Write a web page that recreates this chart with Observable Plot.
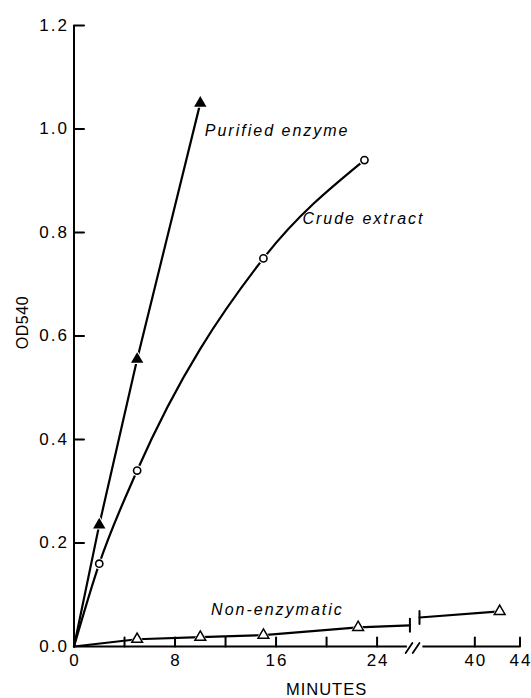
<!DOCTYPE html>
<html>
<head>
<meta charset="utf-8">
<script src="https://cdn.jsdelivr.net/npm/d3@7"></script>
<script src="https://cdn.jsdelivr.net/npm/@observablehq/plot@0.6"></script>
<style>
  html, body { margin: 0; padding: 0; background: #fff; }
  #chart svg { display: block; }
  #chart g[font-size="17"] { letter-spacing: 2px; }
  #chart g[font-size="16.5"] { letter-spacing: 1px; }
  #chart g[font-size="16"] { letter-spacing: 0.5px; }
  #chart g[font-style="italic"] { letter-spacing: 2px; }
</style>
</head>
<body>
<div id="chart"></div>
<script>
// OD540 against time for the purified enzyme, the crude extract and the non-enzymatic blank
const purifiedMin = [0, 2, 5, 10];
const purifiedOD = [0, 0.235, 0.555, 1.05];

const crudeMin = [0, 2, 5, 15, 23];
const crudeOD = [0, 0.16, 0.34, 0.75, 0.94];

const nonEnzMin = [0, 5, 10, 15, 22.5, 42.2];
const nonEnzOD = [0, 0.014, 0.018, 0.022, 0.037, 0.068];
// where the non-enzymatic trace stops and resumes around the axis break
const nonEnzBreakMin = [26.6, 35.1];
const nonEnzBreakOD = [0.041, 0.056];

// axes
const yTicks = [0, 0.2, 0.4, 0.6, 0.8, 1.0, 1.2];
const xTicks = [4, 8, 12, 16, 20, 24, 40, 44];
const xTickLabels = [0, 8, 16, 24, 40, 44];
const xAxisSegments = [[0, 26.4], [35.4, 44]];
const xBreakSlashes = [26.53, 27.09];

const rows = (ts, vs) => ts.map((t, i) => ({t, od: vs[i]}));
const purified = rows(purifiedMin, purifiedOD);
const crude = rows(crudeMin, crudeOD);
const nonEnz = rows(nonEnzMin, nonEnzOD);
const nonEnzBreak = rows(nonEnzBreakMin, nonEnzBreakOD);

// the blank is drawn as two pieces, one on each side of the break
const nonEnzTrace = [
  ...nonEnz.filter((d) => d.t < nonEnzBreakMin[0]).map((d) => ({...d, seg: 0})),
  {...nonEnzBreak[0], seg: 0},
  {...nonEnzBreak[1], seg: 1},
  ...nonEnz.filter((d) => d.t > nonEnzBreakMin[1]).map((d) => ({...d, seg: 1}))
];

const markers = (data) => data.filter((d) => d.t > 0);

// a plain stroke for ticks, slashes and break bars
const stroke = {draw(context, l) { context.moveTo(0, 0); context.lineTo(0, -l); }};

const chart = Plot.plot({
  width: 531,
  height: 698,
  style: {fontFamily: "'Liberation Sans', Arial, sans-serif", background: "white", color: "black"},
  x: {type: "linear", domain: [0, 27.2, 35.1, 44], range: [73.5, 417, 419, 519.5], axis: null},
  y: {domain: [0, 1.2], range: [646, 25], axis: null},
  marks: [
    // axis lines
    Plot.ruleX([0], {y1: 0, y2: 1.2, stroke: "black", strokeWidth: 2}),
    Plot.ruleY(xAxisSegments, {y: 0, x1: (d) => d[0], x2: (d) => d[1], stroke: "black", strokeWidth: 2}),
    Plot.vector(xTicks, {x: (d) => d, y: 0, length: 9, anchor: "start", shape: stroke, stroke: "black", strokeWidth: 2}),
    Plot.vector(yTicks.slice(1), {x: 0, y: (d) => d, rotate: 90, length: 10, anchor: "start", shape: stroke, stroke: "black", strokeWidth: 2}),
    Plot.vector(xBreakSlashes, {x: (d) => d, y: 0, rotate: 34, length: 12, anchor: "middle", dy: 1.5, shape: stroke, stroke: "black", strokeWidth: 1.8}),

    // tick labels and titles
    Plot.text(yTicks, {x: 0, y: (d) => d, text: (d) => d.toFixed(1), textAnchor: "end", dx: -5, fontSize: 17}),
    Plot.text(xTickLabels, {x: (d) => d, y: 0, text: (d) => String(d), dx: 1, dy: 14, fontSize: 17}),
    Plot.text(["MINUTES"], {x: 20, y: 0, text: (d) => d, dy: 43, fontSize: 16.5}),
    Plot.text(["OD540"], {x: 0, y: 0.626, text: (d) => d, rotate: -90, dx: -51, fontSize: 16}),

    // traces
    Plot.line(purified, {x: "t", y: "od", stroke: "black", strokeWidth: 2.2}),
    Plot.line(crude, {x: "t", y: "od", curve: "monotone-x", stroke: "black", strokeWidth: 2.2}),
    Plot.line(nonEnzTrace, {x: "t", y: "od", z: "seg", stroke: "black", strokeWidth: 2.2}),
    Plot.vector(nonEnzBreak, {x: "t", y: "od", length: 13, anchor: "middle", shape: stroke, stroke: "black", strokeWidth: 2}),

    // symbols, each with a white halo that opens a small gap in the line
    Plot.dot(markers(purified), {x: "t", y: "od", symbol: "triangle", r: 6, fill: "white"}),
    Plot.dot(markers(purified), {x: "t", y: "od", symbol: "triangle", r: 4.6, fill: "black"}),
    Plot.dot(markers(crude), {x: "t", y: "od", r: 5.5, fill: "white"}),
    Plot.dot(markers(crude), {x: "t", y: "od", r: 3.6, fill: "white", stroke: "black", strokeWidth: 1.6}),
    Plot.dot(markers(nonEnz), {x: "t", y: "od", symbol: "triangle", r: 5.5, fill: "white"}),
    Plot.dot(markers(nonEnz), {x: "t", y: "od", symbol: "triangle", r: 4, fill: "white", stroke: "black", strokeWidth: 1.5}),

    // trace names
    Plot.text([purified[purified.length - 1]], {x: "t", y: "od", text: () => "Purified enzyme", textAnchor: "start", dx: 4.5, dy: 28, fontSize: 16, fontStyle: "italic"}),
    Plot.text([crude[3]], {x: "t", y: "od", text: () => "Crude extract", textAnchor: "start", dx: 39, dy: -40, fontSize: 16, fontStyle: "italic"}),
    Plot.text([nonEnz[3]], {x: "t", y: "od", text: () => "Non-enzymatic", textAnchor: "middle", dx: 14, dy: -25, fontSize: 16, fontStyle: "italic"})
  ]
});

document.getElementById("chart").append(chart);
</script>
</body>
</html>
